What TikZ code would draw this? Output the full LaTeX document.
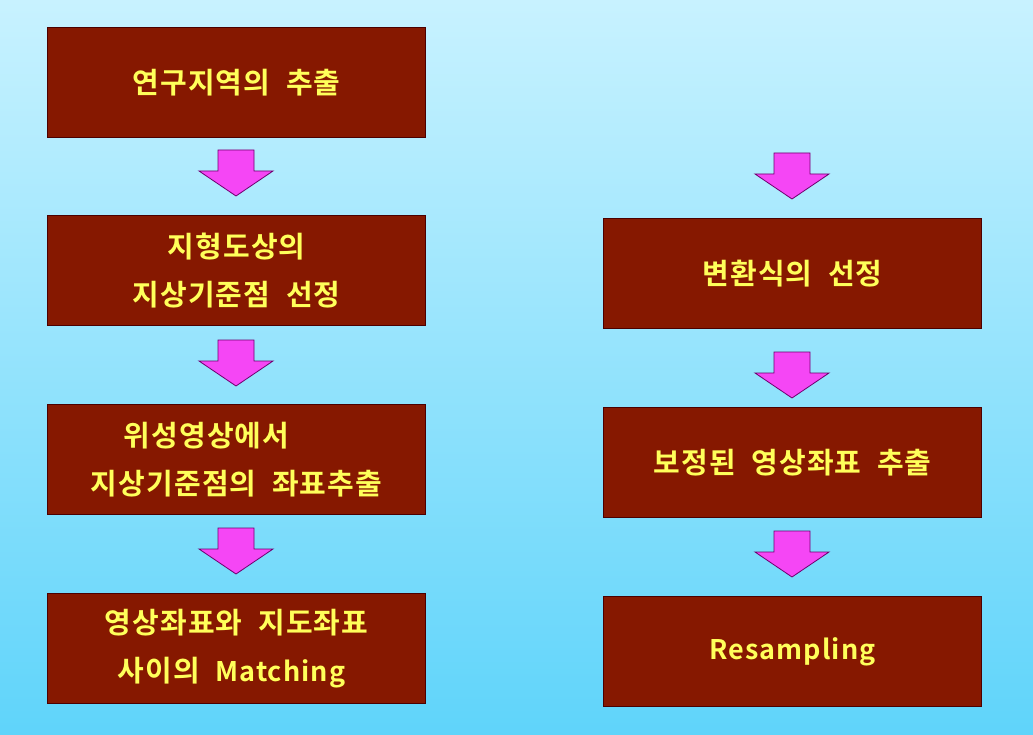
\documentclass[tikz,border=0pt]{standalone}
\usepackage{fontspec}
\newfontfamily\kr[LetterSpace=4,WordSpace=2]{Noto Sans CJK KR Bold}
\newcommand{\lat}[1]{{\fontsize{27}{48}\selectfont #1}}
\begin{document}
\begin{tikzpicture}[x=1pt,y=-1pt,
  box/.style={draw=black!70!red,line width=1pt,fill={rgb,255:red,134;green,24;blue,0},text={rgb,255:red,255;green,255;blue,90},
    minimum width=378pt,minimum height=110pt,anchor=north west,align=center,font=\kr\fontsize{29}{48}\selectfont},
  arr/.style={fill={rgb,255:red,245;green,70;blue,245},draw={rgb,255:red,110;green,0;blue,110},line width=0.8pt}]
\shade[top color={rgb,255:red,200;green,242;blue,255},bottom color={rgb,255:red,95;green,212;blue,250}] (0,0) rectangle (1033,735);
\node[box] (l1) at (47,27) {연구지역의 추출};
\node[box] (l2) at (47,215) {지형도상의\\지상기준점 선정};
\node[box] (l3) at (47,404) {\hspace*{-60pt}위성영상에서\\지상기준점의 좌표추출};
\node[box] (l4) at (47,593) {영상좌표와 지도좌표\\\hspace*{-10pt}사이의 \lat{Matching}};
\node[box] (r1) at (603,218) {변환식의 선정};
\node[box] (r2) at (603,407) {보정된 영상좌표 추출};
\node[box] (r3) at (603,596) {\lat{Resampling}};
\foreach \cx/\ty in {236/150,236/340,236/528,792/153,792/352,792/531}{
  \draw[arr] (\cx-18,\ty) -- (\cx+18,\ty) -- (\cx+18,\ty+21) -- (\cx+37,\ty+21) -- (\cx,\ty+46) -- (\cx-37,\ty+21) -- (\cx-18,\ty+21) -- cycle;}
\end{tikzpicture}
\end{document}
